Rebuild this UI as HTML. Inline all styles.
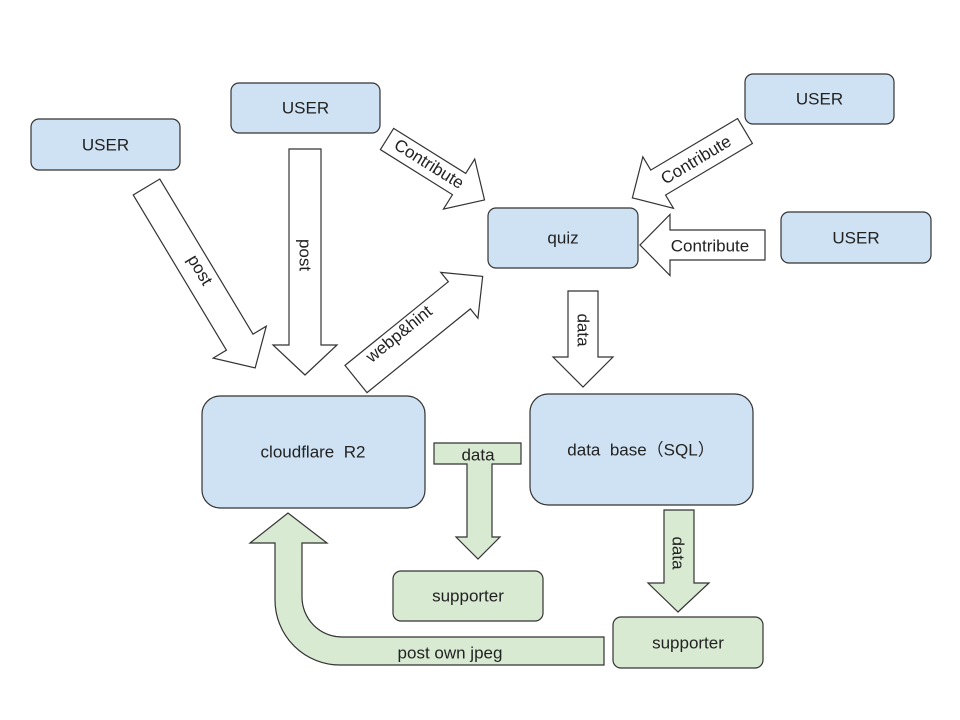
<!DOCTYPE html>
<html><head><meta charset="utf-8"><style>
html,body{margin:0;padding:0;background:#fff;}
svg{display:block;}
text{font-family:"Liberation Sans","Noto Sans CJK SC",sans-serif;font-size:17px;fill:#222;}
</style></head><body>
<svg width="960" height="720" viewBox="0 0 960 720" xmlns="http://www.w3.org/2000/svg">
<g stroke="#333" stroke-width="1.2">
<!-- blue nodes -->
<rect x="31" y="119" width="149" height="51" rx="8" fill="#cfe2f3"/>
<rect x="231" y="83" width="149" height="50" rx="8" fill="#cfe2f3"/>
<rect x="745" y="74" width="149" height="50" rx="8" fill="#cfe2f3"/>
<rect x="781" y="212" width="150" height="51" rx="8" fill="#cfe2f3"/>
<rect x="488" y="208" width="150" height="60" rx="8" fill="#cfe2f3"/>
<rect x="202" y="396" width="223" height="112" rx="18" fill="#cfe2f3"/>
<rect x="530" y="394" width="223" height="111" rx="18" fill="#cfe2f3"/>
<!-- green nodes -->
<rect x="393" y="571" width="150" height="50" rx="8" fill="#d9ead3"/>
<rect x="613" y="617" width="150" height="51" rx="8" fill="#d9ead3"/>

<!-- white arrows: local coords along +x -->
<polygon transform="translate(146.5,187) rotate(59)" points="0,-15.5 181,-15.5 181,-31 211,0 181,31 181,15.5 0,15.5" fill="#fff"/>
<polygon transform="translate(305,149) rotate(90)" points="0,-16 196,-16 196,-32 226,0 196,32 196,16 0,16" fill="#fff"/>
<polygon transform="translate(387,139) rotate(32)" points="0,-12.5 85,-12.5 85,-29.5 115,0 85,29.5 85,12.5 0,12.5" fill="#fff"/>
<polygon transform="translate(356,379) rotate(-39)" points="0,-17.5 133,-17.5 133,-29.5 163,0 133,29.5 133,17.5 0,17.5" fill="#fff"/>
<polygon transform="translate(745,131) rotate(149.3)" points="0,-14.5 101,-14.5 101,-30 131,0 101,30 101,14.5 0,14.5" fill="#fff"/>
<polygon transform="translate(765,245) rotate(180)" points="0,-15 95,-15 95,-30.5 125,0 95,30.5 95,15 0,15" fill="#fff"/>
<polygon transform="translate(583,291) rotate(90)" points="0,-15 66,-15 66,-30 96,0 66,30 66,15 0,15" fill="#fff"/>

<!-- green arrows -->
<polygon points="434,443 521,443 521,464 492,464 492,537 500,537 478,559 456,537 467,537 467,464 434,464" fill="#d9ead3"/>
<polygon points="664,510 694,510 694,583 709,583 678,612 648,583 664,583" fill="#d9ead3"/>
<path d="M604,637 L342,637 A40,40 0 0 1 302,597 L302,543 L327,543 L288,513 L250,543 L275,543 L275,600 A65,65 0 0 0 340,665 L604,665 Z" fill="#d9ead3"/>
</g>

<g text-anchor="middle" dominant-baseline="central">
<text x="105.5" y="145">USER</text>
<text x="305.5" y="108">USER</text>
<text x="819.5" y="99">USER</text>
<text x="856" y="238">USER</text>
<text x="563" y="238">quiz</text>
<text x="313" y="452">cloudflare&#160;&#160;R2</text>
<text x="641" y="450">data&#160;&#160;base（SQL）</text>
<text x="468" y="596">supporter</text>
<text x="688" y="643">supporter</text>

<text transform="translate(200,270) rotate(59)">post</text>
<text transform="translate(305,255) rotate(90)">post</text>
<text transform="translate(429,164) rotate(32)">Contribute</text>
<text transform="translate(399,334) rotate(-39)">webp&amp;hint</text>
<text transform="translate(696,160) rotate(-31)">Contribute</text>
<text x="710" y="246">Contribute</text>
<text transform="translate(583,330) rotate(90)">data</text>
<text transform="translate(678,553) rotate(90)">data</text>
<text x="478" y="455">data</text>
<text x="450" y="653">post own jpeg</text>
</g>
</svg>
</body></html>
